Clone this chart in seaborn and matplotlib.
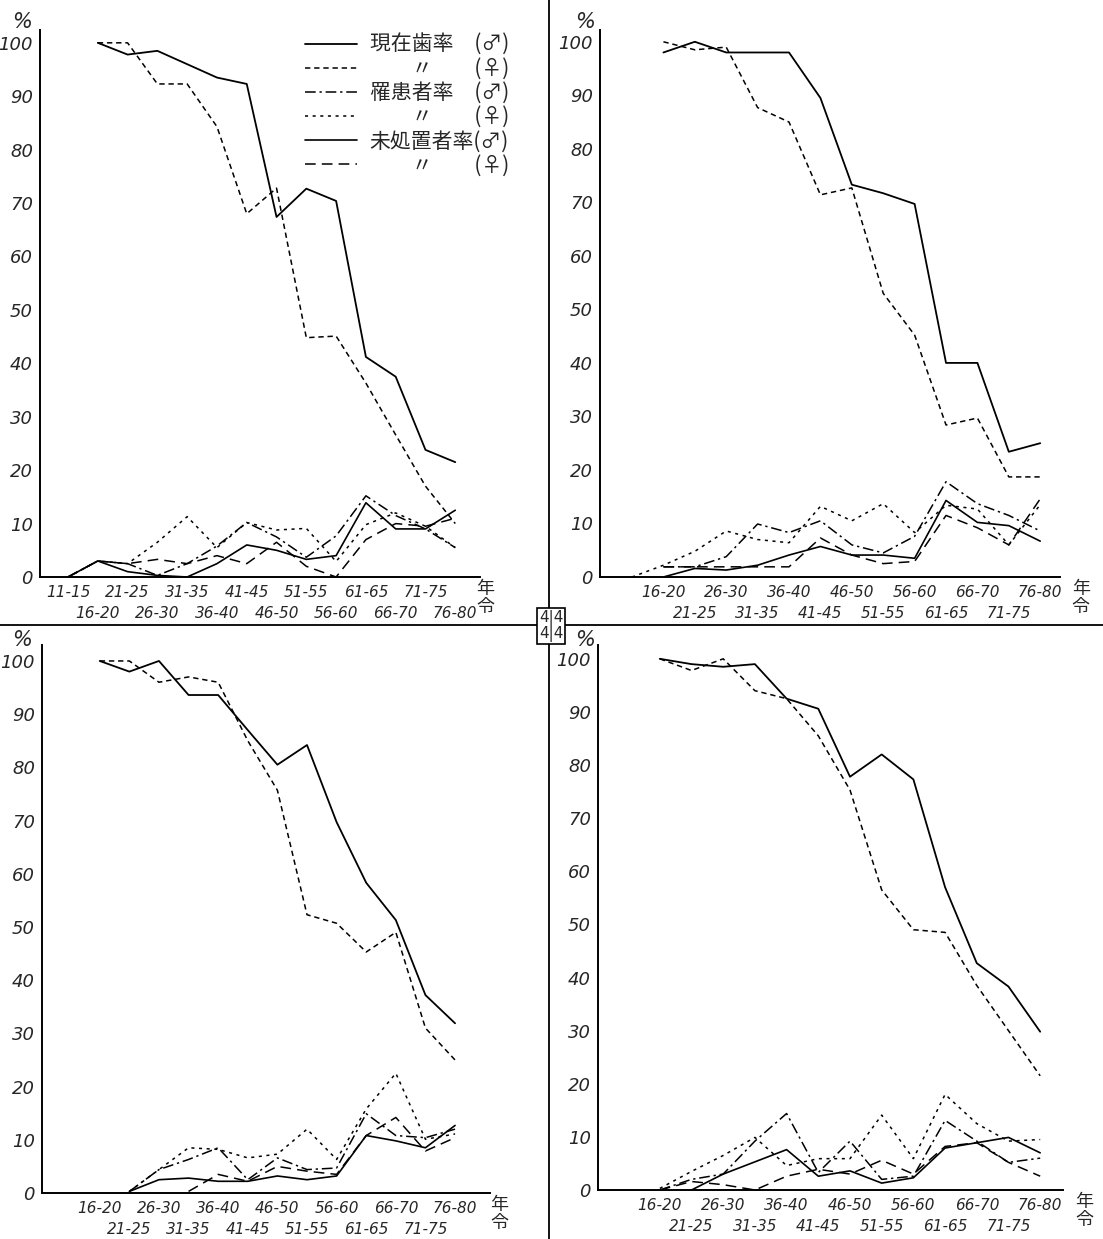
import numpy as np
import matplotlib
matplotlib.use("Agg")
import matplotlib.pyplot as plt
import seaborn as sns
from matplotlib.lines import Line2D

sns.set_theme(style="white")
plt.rcParams["font.family"] = ["DejaVu Sans", "Noto Sans CJK JP"]

nan = np.nan
W, H = 1103, 1239

ages = ["11-15", "16-20", "21-25", "26-30", "31-35", "36-40", "41-45",
        "46-50", "51-55", "56-60", "61-65", "66-70", "71-75", "76-80"]
yticks = [0, 10, 20, 30, 40, 50, 60, 70, 80, 90, 100]

legend_labels = ["現在歯率\u3000(♂)", "\u3000\u3000〃\u3000\u3000(♀)",
                 "罹患者率\u3000(♂)", "\u3000\u3000〃\u3000\u3000(♀)",
                 "未処置者率(♂)", "\u3000\u3000〃\u3000\u3000(♀)"]

# ---- panel: top-left ----
tl_present_m = [nan, 100, 97.8, 98.5, 96, 93.5, 92.3, 67.4, 72.7, 70.4, 41.2, 37.5, 23.8, 21.5]
tl_present_f = [nan, 100, 100, 92.3, 92.3, 84.3, 68, 72.8, 44.8, 45.1, 36.3, 26.6, 17, 10]
tl_caries_m = [0, 3, 2.5, 0.3, 2.5, 5.8, 10.2, 7.5, 3.7, 7.7, 15.2, 11.5, 9, 5.5]
tl_caries_f = [0, 3, 2.5, 6.5, 11.3, 5.5, 10.2, 8.8, 9.1, 2.9, 9.8, 12, 9.5, 5.5]
tl_untreat_m = [0, 3, 1, 0.3, 0, 2.5, 6, 5, 3.3, 4, 13.9, 9, 9, 12.5]
tl_untreat_f = [0, 3, 2.5, 3.3, 2.5, 4, 2.5, 6.5, 2, 0, 7, 10, 9.5, 11]

# ---- panel: top-right ----
tr_present_m = [nan, 98, 100, 98, 98, 98, 89.5, 73.3, 71.7, 69.7, 40, 40, 23.4, 25]
tr_present_f = [nan, 100, 98.5, 99, 87.7, 85, 71.4, 72.7, 53, 45.2, 28.4, 29.7, 18.7, 18.7]
tr_caries_m = [nan, 1.9, 1.9, 3.8, 9.9, 8.3, 10.5, 6, 4.5, 7.6, 17.8, 13.7, 11.5, 8.6]
tr_caries_f = [0, 2.2, 4.8, 8.6, 7, 6.4, 13.2, 10.5, 13.7, 8.3, 13.4, 12.7, 6, 13.5]
tr_untreat_m = [nan, 0, 1.6, 1.3, 2.2, 4.1, 5.7, 4.1, 4.1, 3.5, 14.3, 10.2, 9.6, 6.7]
tr_untreat_f = [nan, 1.9, 1.9, 1.9, 1.9, 1.9, 7.3, 4.1, 2.5, 2.9, 11.5, 9.2, 6, 14.6]

# ---- panel: bottom-left ----
bl_present_m = [nan, 100, 98, 100, 93.6, 93.6, 87, 80.5, 84.2, 69.7, 58.3, 51.3, 37.2, 31.9]
bl_present_f = [nan, 100, 100, 96, 97, 96, 85, 75.7, 52.3, 50.7, 45.3, 49, 31, 25]
bl_caries_m = [nan, nan, 0.3, 4.4, 6.3, 8.5, 2.5, 6.6, 4.4, 4.7, 14.9, 10.8, 10.4, 12]
bl_caries_f = [nan, nan, 0.3, 4.4, 8.5, 8.2, 6.6, 7.3, 12, 6.3, 15.8, 22.5, 10.1, 11.1]
bl_untreat_m = [nan, nan, 0.3, 2.5, 2.8, 2.2, 2.2, 3.2, 2.5, 3.2, 10.8, 9.8, 8.5, 12.7]
bl_untreat_f = [nan, nan, nan, nan, 0.3, 3.5, 2.2, 5, 4.1, 3.5, 10.8, 14.2, 7.9, 10.4]

# ---- panel: bottom-right ----
br_present_m = [nan, 100, 99, 98.5, 99, 92.5, 90.6, 77.8, 82, 77.3, 57, 42.7, 38.3, 29.8]
br_present_f = [nan, 100, 97.8, 100, 94, 92.5, 85.5, 75.3, 56.5, 49, 48.5, 38.5, 30, 21.5]
br_caries_m = [nan, 0, 2, 3, 9.2, 14.4, 3.3, 9.2, 2, 2.6, 13.1, 9.2, 5.2, 6]
br_caries_f = [nan, 0.3, 3.5, 6.5, 9.9, 4.6, 5.9, 5.9, 14.1, 5.9, 18, 12.5, 9.2, 9.5]
br_untreat_m = [nan, nan, 0, 3, 5.3, 7.6, 2.6, 3.6, 1.3, 2.3, 7.9, 8.9, 9.9, 7]
br_untreat_f = [nan, 0, 1.6, 1, 0, 2.6, 3.9, 3, 5.6, 3, 8.2, 8.9, 5.2, 2.6]

styles = [
    dict(linestyle="-", linewidth=1.3),
    dict(linestyle=(0, (3.5, 2.5)), linewidth=1.1),
    dict(linestyle=(0, (7, 2.5, 1.5, 2.5)), linewidth=1.1),
    dict(linestyle=(0, (2, 3)), linewidth=1.1),
    dict(linestyle="-", linewidth=1.2),
    dict(linestyle=(0, (7, 4)), linewidth=1.1),
]

fig = plt.figure(figsize=(W / 100, H / 100), dpi=100)


def rect(left, right, top, bottom):
    return [left / W, 1 - bottom / H, (right - left) / W, (bottom - top) / H]


panels = [
    dict(series=[tl_present_m, tl_present_f, tl_caries_m, tl_caries_f, tl_untreat_m, tl_untreat_f],
         rect=rect(40, 480, 30, 577), xlim=(-0.94, 13.83), ylim=(0, 102.4), first=0, legend=True,
         pct=(22, 22), nenrei=1.012),
    dict(series=[tr_present_m, tr_present_f, tr_caries_m, tr_caries_f, tr_untreat_m, tr_untreat_f],
         rect=rect(600, 1060, 30, 577), xlim=(-1.02, 13.63), ylim=(0, 102.2), first=1, legend=False,
         pct=(585, 22), nenrei=1.045),
    dict(series=[bl_present_m, bl_present_f, bl_caries_m, bl_caries_f, bl_untreat_m, bl_untreat_f],
         rect=rect(42, 490, 645, 1193), xlim=(-0.95, 14.18), ylim=(0, 103), first=1, legend=False,
         pct=(22, 640), nenrei=1.02),
    dict(series=[br_present_m, br_present_f, br_caries_m, br_caries_f, br_untreat_m, br_untreat_f],
         rect=rect(598, 1063, 645, 1190), xlim=(-0.95, 13.72), ylim=(0, 102.6), first=1, legend=False,
         pct=(585, 640), nenrei=1.045),
]

x = np.arange(len(ages))
for p in panels:
    ax = fig.add_axes(p["rect"])
    for vals, st in zip(p["series"], styles):
        sns.lineplot(x=x, y=np.array(vals, dtype=float), ax=ax, color="black", legend=False, **st)
    ax.set_xlim(*p["xlim"])
    ax.set_ylim(*p["ylim"])
    for s in ["top", "right"]:
        ax.spines[s].set_visible(False)
    for s in ["left", "bottom"]:
        ax.spines[s].set_color("black")
        ax.spines[s].set_linewidth(1.4)
    first = p["first"]
    row1 = [i for i in range(len(ages)) if i >= first and (i - first) % 2 == 0]
    row2 = [i for i in range(len(ages)) if i not in row1]
    ax.set_xticks(row1)
    ax.set_xticklabels([ages[i] for i in row1], fontstyle="italic", fontsize=11)
    ax.set_xticks(row2, minor=True)
    ax.set_xticklabels([ages[i] if i >= first else "" for i in row2], minor=True,
                       fontstyle="italic", fontsize=11)
    ax.set_yticks(yticks)
    ax.set_yticklabels([str(v) for v in yticks], fontstyle="italic", fontsize=13)
    ax.tick_params(axis="x", which="major", direction="in", length=10, width=1.2,
                   color="black", pad=6)
    ax.tick_params(axis="x", which="minor", direction="in", length=10, width=1.2,
                   color="black", pad=21)
    ax.tick_params(axis="y", direction="in", length=6, width=1.2, color="black", pad=5)
    ax.set_xlabel("")
    ax.set_ylabel("")
    ax.grid(False)
    ax.text(p["nenrei"], -0.005, "年\n令", transform=ax.transAxes, ha="center", va="top",
            fontsize=13, family=["Noto Sans CJK JP", "DejaVu Sans"], linespacing=1.0)
    fig.text(p["pct"][0] / W, 1 - p["pct"][1] / H, "%", fontsize=15, fontstyle="italic",
             ha="center", va="center")
    if p["legend"]:
        handles = list(ax.get_lines())[:6]
        ax.legend(handles, legend_labels, loc="upper left",
                  bbox_to_anchor=((305 - 40) / 440, 1.0 - 4 / 547), frameon=False,
                  borderpad=0, borderaxespad=0, handlelength=2.5, handletextpad=0.6,
                  labelspacing=0.1,
                  prop=dict(family=["Noto Sans CJK JP", "DejaVu Sans"], size=15))

# dividing cross
fig.add_artist(Line2D([0, 1], [1 - 625 / H, 1 - 625 / H], transform=fig.transFigure,
                      color="black", linewidth=1.3))
fig.add_artist(Line2D([549 / W, 549 / W], [0, 1], transform=fig.transFigure,
                      color="black", linewidth=1.3))
fig.text(551 / W, 1 - 626 / H, "4|4\n4|4", ha="center", va="center", fontsize=11,
         linespacing=0.95,
         bbox=dict(boxstyle="square,pad=0.15", fc="white", ec="black", lw=1.2))

fig.savefig("out.png", dpi=100, facecolor="white")
